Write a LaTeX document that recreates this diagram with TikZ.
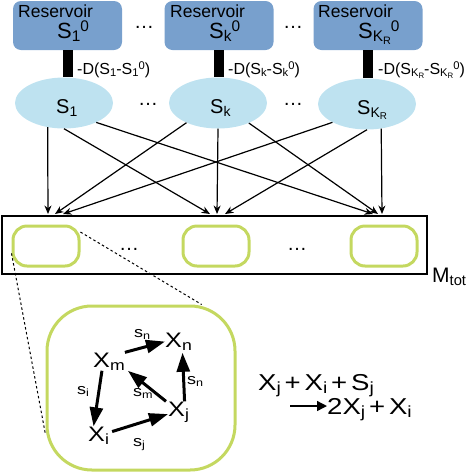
\documentclass[tikz,border=0pt]{standalone}
\usepackage{fontspec}
\setmainfont{Liberation Sans}
\newfontfamily\widefont[FakeStretch=1.2]{Liberation Sans}
\usetikzlibrary{arrows.meta,shapes.geometric}
\definecolor{resblue}{RGB}{120,160,205}
\definecolor{ellblue}{RGB}{190,226,240}
\definecolor{cellgreen}{RGB}{196,216,96}
\newcommand\mysup[1]{\raisebox{0.3em}{\scalebox{0.7}{#1}}}
\newcommand\mysub[1]{\raisebox{-0.17em}{\scalebox{0.7}{#1}}}
\begin{document}
\begin{tikzpicture}[x=1pt,y=-1pt,
  resbox/.style={fill=resblue, rounded corners=8pt, minimum width=109pt, minimum height=49pt, inner sep=0pt},
  pool/.style={ellipse, fill=ellblue, minimum width=98pt, minimum height=51pt, inner sep=0pt},
  txt/.style={inner sep=0pt, anchor=base west},
  restxt/.style={txt, font=\fontsize{17.5}{20}\selectfont},
  resS/.style={txt, font=\fontsize{22}{26}\selectfont},
  poolS/.style={txt, font=\fontsize{20}{24}\selectfont},
  dlab/.style={txt, font=\fontsize{16}{19}\selectfont},
  dotsn/.style={inner sep=0pt, anchor=base, font=\fontsize{20}{24}\selectfont},
  bar/.style={line width=10pt},
  flow/.style={-{Stealth[length=8.5pt,width=7pt]}, line width=1.2pt},
  cell/.style={draw=cellgreen, line width=3pt, rounded corners=14pt, minimum width=66pt, minimum height=40pt, inner sep=0pt},
  inX/.style={txt, font=\widefont\fontsize{21}{25}\selectfont},
  ins/.style={txt, font=\widefont\fontsize{15}{18}\selectfont},
  react/.style={-{Triangle[length=19pt,width=13pt]}, line width=3pt},
  eqn/.style={txt, font=\widefont\fontsize{23}{27}\selectfont},
  zoomline/.style={line width=1pt, dash pattern=on 2.5pt off 2.5pt}
]
\useasboundingbox (0,0) rectangle (473,472);
% reservoirs
\node[resbox] (r1) at (67.5,25.5) {};
\node[resbox] (rk) at (219,25.5) {};
\node[resbox] (rK) at (368,25.5) {};
\node[restxt] (r1a) at (18,17) {Reservoir};
\node[restxt] (rka) at (170,17) {Reservoir};
\node[restxt] (rKa) at (318,17) {Reservoir};
\node[resS] (r1b) at (57,38) {S\mysub{1}\mysup{0}};
\node[resS] (rkb) at (209,38) {S\mysub{k}\mysup{0}};
\node[resS] (rKb) at (358,38) {S\mysub{K\mysub{R}}\mysup{0}};
\node[dotsn] (d1) at (144,28) {…};
\node[dotsn] (d2) at (293,28) {…};
% pools
\node[pool] (e1) at (64,103) {};
\node[pool] (ek) at (218,103) {};
\node[pool] (eK) at (367,104) {};
\node[poolS] (e1t) at (56,113) {S\mysub{1}};
\node[poolS] (ekt) at (210,113) {S\mysub{k}};
\node[poolS] (eKt) at (357,114) {S\mysub{K\mysub{R}}};
\node[dotsn] (d3) at (148,105) {…};
\node[dotsn] (d4) at (293,105) {…};
% bars
\draw[bar] (r1.south) -- (r1.south |- e1.north);
\draw[bar] (rk.south) -- (rk.south |- ek.north);
\draw[bar] (rK.south) -- (rK.south |- eK.north);
\node[dlab] (l1) at (77,74) {-D(S\mysub{1}-S\mysub{1}\mysup{0})};
\node[dlab] (lk) at (228,74) {-D(S\mysub{k}-S\mysub{k}\mysup{0})};
\node[dlab] (lK) at (378,74) {-D(S\mysub{K\mysub{R}}-S\mysub{K\mysub{R}}\mysup{0})};
% M_tot
\node[draw, line width=2.8pt, minimum width=425pt, minimum height=58pt, inner sep=0pt] (mtot) at (214.5,245) {};
\node[txt, font=\fontsize{21}{25}\selectfont] (mlab) at (432,282) {M\mysub{tot}};
\node[cell] (b1) at (46,246) {};
\node[cell] (b2) at (216,246) {};
\node[cell] (b3) at (384,246) {};
\node[dotsn] (d5) at (129,250) {…};
\node[dotsn] (d6) at (297,250) {…};
% targets on the top edge of the M_tot box
\coordinate (t1a) at (48,214);
\coordinate (t1b) at (55,214);
\coordinate (t1c) at (63,214);
\coordinate (t2a) at (210,214);
\coordinate (t2b) at (217,214);
\coordinate (t2c) at (225,214);
\coordinate (t3a) at (373,214);
\coordinate (t3b) at (378,214);
\coordinate (t3c) at (382,214);
\draw[flow] (e1.-124) -- (t1a);
\draw[flow] (e1.-90) -- (t2a);
\draw[flow] (e1.-31.5) -- (t3a);
\draw[flow] (ek.-148.5) -- (t1b);
\draw[flow] (ek.-90) -- (t2b);
\draw[flow] (ek.-33.7) -- (t3b);
\draw[flow] (eK.-152) -- (t1c);
\draw[flow] (eK.-90) -- (t2c);
\draw[flow] (eK.-60) -- (t3c);
% zoomed cell
\node[cell, rounded corners=45pt, minimum width=188pt, minimum height=164pt] (big) at (141,388) {};
\draw[zoomline] (b1.-168) -- (big.-154);
\draw[zoomline] (b1.22) -- (big.54);
\node[inX] (Xm) at (93,367) {X\mysub{m}};
\node[inX] (Xn) at (165,347) {X\mysub{n}};
\node[inX] (Xi) at (88,441) {X\mysub{i}};
\node[inX] (Xj) at (168,416) {X\mysub{j}};
\node[ins] (s1) at (134,337) {s\mysub{n}};
\node[ins] (s2) at (77,394) {s\mysub{i}};
\node[ins] (s3) at (133,396) {s\mysub{m}};
\node[ins] (s4) at (187,384) {s\mysub{n}};
\node[ins] (s5) at (133,446) {s\mysub{j}};
\draw[react] (Xm.north east) -- (Xn.west);
\draw[react] ([xshift=-7pt]Xm.south) -- ([xshift=-5pt]Xi.north);
\draw[react] ([xshift=-2pt]Xj.north west) -- ([xshift=3pt]Xm.south east);
\draw[react] ([xshift=6pt]Xj.north) -- ([xshift=4pt,yshift=-2pt]Xn.south);
\draw[react] ([xshift=3pt,yshift=4pt]Xi.east) -- ([yshift=-2pt]Xj.west);
% reaction
\node[eqn] (eq1) at (258,390) {X\mysub{j}\,+\,X\mysub{i}\,+\,S\mysub{j}};
\node[eqn] (eq2) at (327,414) {2X\mysub{j}\,+\,X\mysub{i}};
\coordinate (arr0) at (290,406);
\draw[-{Triangle[length=10pt,width=10pt]}, line width=1.4pt] (arr0) -- (eq2.west |- arr0);
\end{tikzpicture}
\end{document}
